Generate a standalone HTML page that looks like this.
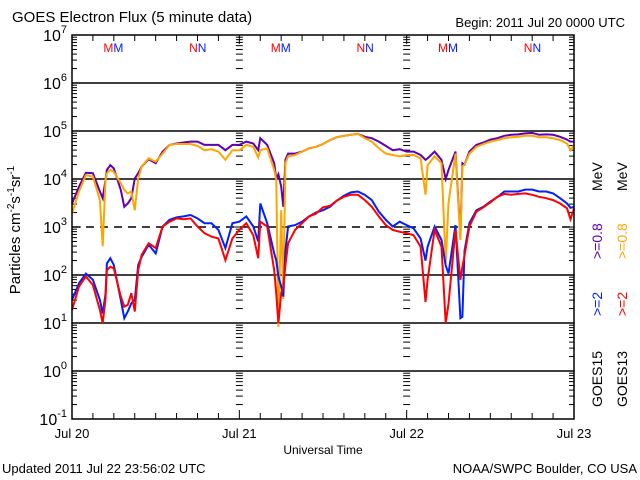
<!DOCTYPE html>
<html><head><meta charset="utf-8"><style>
html,body{margin:0;padding:0;background:#fff}
svg{display:block;font-family:"Liberation Sans",sans-serif}
</style></head><body>
<svg id="c" width="640" height="480" viewBox="0 0 640 480">
<text x="12" y="22" font-size="15">GOES Electron Flux (5 minute data)</text>
<text x="625" y="27" font-size="13" text-anchor="end">Begin: 2011 Jul 20 0000 UTC</text>
<text x="323" y="454" font-size="12" text-anchor="middle">Universal Time</text>
<text x="2" y="473" font-size="13">Updated 2011 Jul 22 23:56:02 UTC</text>
<text x="637" y="473" font-size="13" text-anchor="end">NOAA/SWPC Boulder, CO USA</text>
<text transform="translate(20,230) rotate(-90)" font-size="15" text-anchor="middle">Particles cm<tspan font-size="10" dy="-6">-2</tspan><tspan dy="6">s</tspan><tspan font-size="10" dy="-6">-1</tspan><tspan dy="6">sr</tspan><tspan font-size="10" dy="-6">-1</tspan></text>
<g font-size="14">
<text transform="translate(602,407) rotate(-90)">GOES15</text>
<text transform="translate(602,316) rotate(-90)" fill="#0020ff">&gt;=2</text>
<text transform="translate(602,259) rotate(-90)" fill="#6000b0">&gt;=0.8</text>
<text transform="translate(602,191) rotate(-90)">MeV</text>
<text transform="translate(627,407) rotate(-90)">GOES13</text>
<text transform="translate(627,316) rotate(-90)" fill="#ff0000">&gt;=2</text>
<text transform="translate(627,259) rotate(-90)" fill="#ffa500">&gt;=0.8</text>
<text transform="translate(627,191) rotate(-90)">MeV</text>
</g>
</svg>
<script>
const hours=[0,1,2,3,4,4.4,4.8,5,5.5,6,7,7.5,8,8.5,9,9.5,10,11,12,13,14,15,16,17,18,19,20,21,22,23,24,25,26,26.7,27,28,29,29.3,29.6,30,30.3,30.6,31,32,33,34,35,36,37,38,39,40,41,42,43,44,45,46,47,48,49,50,50.7,51,52,53,53.6,54,55,55.7,56,56.3,57,58,59,60,61,62,63,64,65,66,67,68,69,70,71,71.5,72];
const g15e08=[3.49,3.84,4.13,4.12,3.74,3.6,3.98,4.19,4.29,4.22,3.77,3.42,3.49,3.60,4.01,4.12,4.26,4.41,4.33,4.57,4.71,4.74,4.76,4.78,4.78,4.71,4.71,4.71,4.60,4.71,4.71,4.78,4.74,4.6,4.85,4.71,4.33,4.0,4.1,3.84,3.42,4.40,4.53,4.53,4.57,4.64,4.67,4.73,4.81,4.87,4.90,4.92,4.94,4.88,4.85,4.78,4.69,4.60,4.62,4.57,4.57,4.50,4.40,4.43,4.57,4.40,4.0,4.19,4.57,2.8,4.33,4.3,4.57,4.71,4.76,4.82,4.85,4.90,4.92,4.93,4.95,4.96,4.92,4.93,4.92,4.88,4.82,4.78,4.78];
const g13e08=[3.28,3.74,4.08,4.05,3.56,2.6,3.98,4.12,4.19,4.15,3.91,3.77,3.70,3.74,3.35,4.01,4.26,4.43,4.36,4.53,4.71,4.73,4.73,4.73,4.69,4.60,4.62,4.57,4.40,4.60,4.60,4.71,4.67,4.45,4.60,4.64,4.19,3.98,0.92,3.35,1.5,4.33,4.47,4.50,4.57,4.64,4.67,4.73,4.81,4.87,4.90,4.92,4.94,4.85,4.78,4.64,4.53,4.50,4.47,4.50,4.50,4.43,3.67,4.29,4.47,4.33,2.24,3.5,4.53,2.73,4.26,4.3,4.53,4.67,4.73,4.78,4.81,4.85,4.87,4.88,4.90,4.90,4.87,4.87,4.85,4.81,4.74,4.60,4.71];
const g15e2=[1.48,1.83,2.03,1.90,1.48,1.2,1.6,2.24,2.35,2.21,1.48,1.10,1.24,1.41,1.48,2.21,2.38,2.63,2.45,3.01,3.15,3.20,3.22,3.25,3.18,3.08,3.08,2.94,2.56,3.08,3.11,3.22,3.01,2.7,3.49,3.08,2.45,2.3,1.97,1.76,1.55,2.5,3.01,3.04,3.11,3.22,3.30,3.35,3.42,3.55,3.65,3.72,3.74,3.67,3.56,3.32,3.15,3.01,3.11,3.04,2.97,2.76,2.3,2.59,3.01,2.73,2.2,2.03,3.04,1.1,1.13,2.5,3.08,3.35,3.42,3.53,3.62,3.74,3.74,3.74,3.78,3.78,3.74,3.74,3.70,3.60,3.49,3.4,3.42];
const g13e2=[1.27,1.76,1.97,1.79,1.27,1.0,1.5,2.10,2.17,2.14,1.55,1.34,1.38,1.62,1.24,2.10,2.42,2.66,2.56,3.01,3.11,3.18,3.16,3.18,3.01,2.87,2.80,2.76,2.31,2.76,2.94,3.08,2.83,2.35,3.11,3.01,2.10,1.6,1.0,1.62,1.76,2.2,2.66,2.94,3.08,3.22,3.28,3.41,3.44,3.55,3.63,3.67,3.67,3.56,3.42,3.22,3.04,2.94,2.90,2.87,2.83,2.59,1.44,1.90,2.94,2.59,1.0,1.4,2.94,1.9,2.17,2.4,3.01,3.32,3.41,3.51,3.63,3.69,3.67,3.69,3.70,3.67,3.63,3.60,3.56,3.49,3.39,3.16,3.39];
const decades=[-1,0,1,2,3,4,5,6,7];
const dayLabels=["Jul 20","Jul 21","Jul 22","Jul 23"];
const markers=[["M",4.5],["N",16.8],["M",28.5],["N",40.8],["M",52.5],["N",64.8]];

const L=72,R=574,T=35,B=419;
const X=h=>L+(R-L)*h/72;
const Y=lg=>B-(B-T)*(lg+1)/8;
const svg=document.getElementById('c');
const NS='http://www.w3.org/2000/svg';
function mk(tag,attrs,parent){const e=document.createElementNS(NS,tag);for(const k in attrs)e.setAttribute(k,attrs[k]);(parent||svg).appendChild(e);return e;}
const axes=mk('g',{});


// grid lines
decades.forEach(d=>{
  if(d===-1||d===7)return;
  const ln=mk('line',{x1:L,x2:R,y1:Y(d),y2:Y(d),stroke:'#000','stroke-width':1.5},axes);
  if(d===3)ln.setAttribute('stroke-dasharray','8,6');
  
  
});
// minor/major y ticks on left, right and day boundaries
const tk=mk('g',{stroke:'#000','stroke-width':1},axes);


for(let d=-1;d<7;d++){for(let m=1;m<10;m++){
  const y=Y(d+Math.log10(m));const len=m===1?9:5;
  mk('line',{x1:L,x2:L+len,y1:y,y2:y},tk);
  mk('line',{x1:R-len,x2:R,y1:y,y2:y},tk);
  [24,48].forEach(h=>{const x=X(h);mk('line',{x1:x-len/2-1,x2:x+len/2+1,y1:y,y2:y},tk);});
}}
// x ticks every 3 h
for(let h=0;h<=72;h+=3){
  const x=X(h);const len=h%24===0?9:6;
  mk('line',{x1:x,x2:x,y1:B,y2:B-len},tk);
  mk('line',{x1:x,x2:x,y1:T,y2:T+len},tk);
}
// y labels
decades.forEach(d=>{
  const t=mk('text',{x:L-5,y:Y(d)+6,'font-size':16,'text-anchor':'end'},axes);
  
  
  t.innerHTML='10<tspan font-size="11" dy="-8">'+d+'</tspan>';
});
dayLabels.forEach((s,i)=>{
  const t=mk('text',{x:X(i*24),y:438,'font-size':13,'text-anchor':'middle'},axes);
  
  
  t.textContent=s;
});
markers.forEach(([c,h],i)=>{
  const t=mk('text',{x:X(h),y:52,'font-size':12},axes);
  
  
  t.innerHTML='<tspan fill="#ff0000">'+c+'</tspan><tspan fill="#0020ff">'+c+'</tspan>';
});
// series
const series=[[g15e08,'#6000b0','goes15-0.8mev-line'],[g13e08,'#ffa500','goes13-0.8mev-line'],[g15e2,'#0020ff','goes15-2mev-line'],[g13e2,'#ff0000','goes13-2mev-line']];
series.forEach(([vals,col,name])=>{
  const pts=hours.map((h,i)=>X(h).toFixed(1)+','+Y(vals[i]).toFixed(1)).join(' ');
  const p=mk('polyline',{points:pts,fill:'none',stroke:col,'stroke-width':2,'stroke-linejoin':'miter'});
  
  
});
const frame=mk('rect',{x:L,y:T,width:R-L,height:B-T,fill:'none',stroke:'#000','stroke-width':1.5});


</script>
</body></html>
